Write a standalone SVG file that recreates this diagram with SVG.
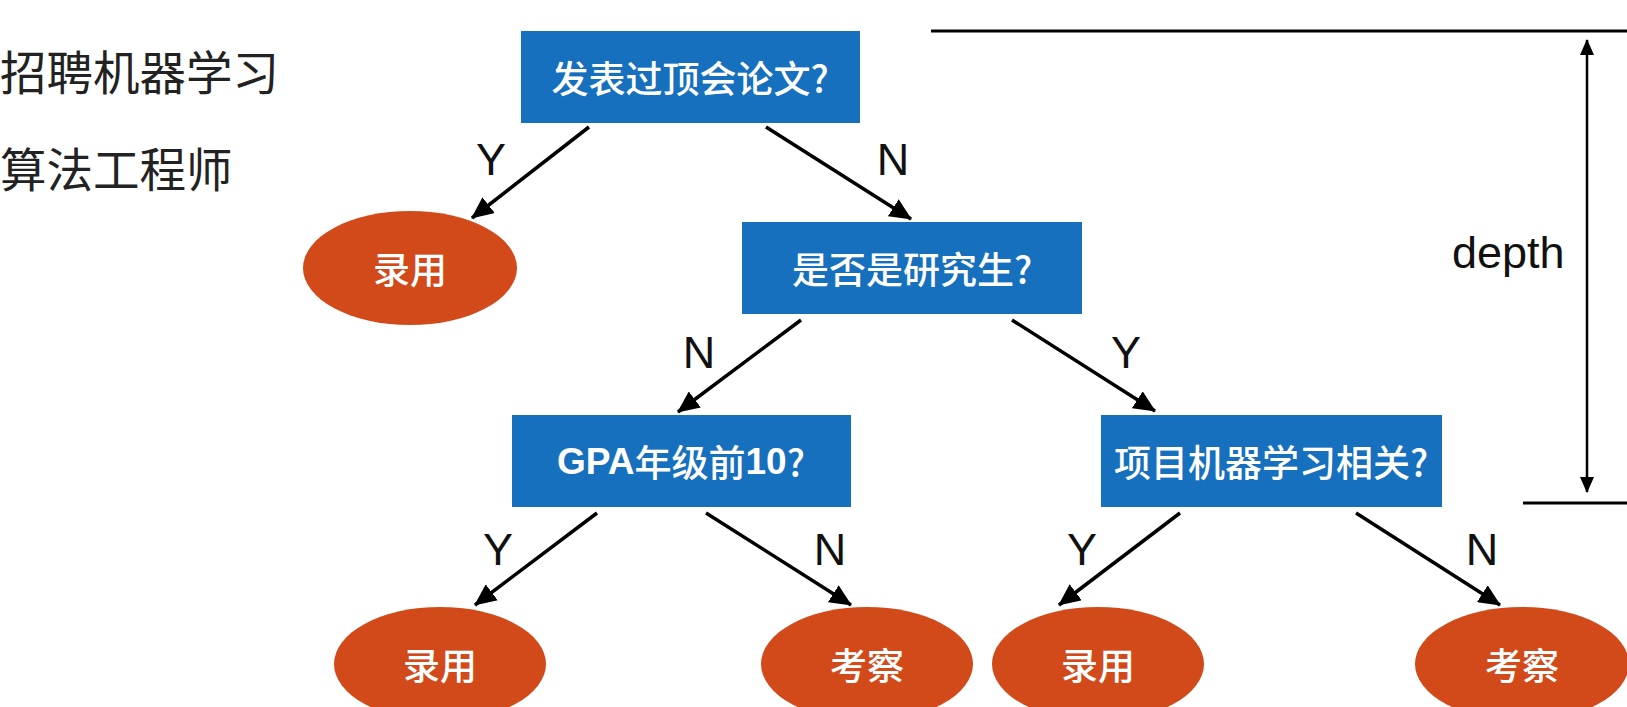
<svg xmlns="http://www.w3.org/2000/svg" width="1627" height="707" viewBox="0 0 1627 707">
<style>
.box{fill:#1670bd;}
.leaf{fill:#d34a1a;}
.bt{font-family:"Noto Sans CJK SC",sans-serif;font-size:37px;font-weight:500;fill:#fff;text-anchor:middle;dominant-baseline:central;}
.lt{font-family:"Noto Sans CJK SC",sans-serif;font-size:37px;font-weight:500;fill:#fff;text-anchor:middle;dominant-baseline:central;}
.lab{font-family:"Liberation Sans",Arial,sans-serif;font-size:45px;fill:#111;text-anchor:middle;}
.edge{stroke:#000;stroke-width:3.5;fill:none;marker-end:url(#ah);}
.rule{stroke:#000;stroke-width:3;fill:none;}
.title{font-family:"Noto Sans CJK SC",sans-serif;font-size:46.5px;fill:#222;dominant-baseline:central;}
</style>
<defs>
<marker id="ah" viewBox="0 0 22 20" refX="21" refY="10" markerWidth="22" markerHeight="20" markerUnits="userSpaceOnUse" orient="auto">
<path d="M0,0 L22,10 L0,20 z" fill="#000"/>
</marker>
<marker id="dh" viewBox="0 0 16 14" refX="15" refY="7" markerWidth="16" markerHeight="14" markerUnits="userSpaceOnUse" orient="auto-start-reverse">
<path d="M0,0 L16,7 L0,14 z" fill="#000"/>
</marker>
</defs>
<rect width="1627" height="707" fill="#fff"/>

<g id="title">
<text class="title" x="0" y="69">招聘机器学习</text>
<text class="title" x="0" y="166">算法工程师</text>
</g>

<g id="connectors">
<line class="edge" x1="589" y1="127" x2="472" y2="218"/>
<line class="edge" x1="766" y1="127" x2="911" y2="219"/>
<line class="edge" x1="801" y1="320" x2="678" y2="412"/>
<line class="edge" x1="1012" y1="320" x2="1155" y2="411"/>
<line class="edge" x1="597" y1="513" x2="475" y2="605"/>
<line class="edge" x1="706" y1="513" x2="851" y2="605"/>
<line class="edge" x1="1180" y1="513" x2="1059" y2="605"/>
<line class="edge" x1="1356" y1="513" x2="1500" y2="605"/>
<text class="lab" x="491" y="175">Y</text>
<text class="lab" x="893" y="175">N</text>
<text class="lab" x="699" y="368">N</text>
<text class="lab" x="1126" y="368">Y</text>
<text class="lab" x="498" y="565">Y</text>
<text class="lab" x="830" y="565">N</text>
<text class="lab" x="1082" y="565">Y</text>
<text class="lab" x="1482" y="565">N</text>
</g>

<g id="depth">
<line class="rule" x1="931" y1="31" x2="1627" y2="31"/>
<line class="rule" x1="1523" y1="503" x2="1627" y2="503"/>
<line x1="1587" y1="40" x2="1587" y2="492" stroke="#000" stroke-width="2.5" marker-start="url(#dh)" marker-end="url(#dh)"/>
<text x="1452" y="268" font-family="Liberation Sans,Arial,sans-serif" font-size="45" fill="#111">depth</text>
</g>

<g id="n1">
<rect class="box" x="521" y="31" width="339" height="92"/>
<text class="bt" x="690" y="77">发表过顶会论文?</text>
</g>
<g id="n2">
<ellipse class="leaf" cx="410" cy="268" rx="107" ry="57"/>
<text class="lt" x="410" y="268">录用</text>
</g>
<g id="n3">
<rect class="box" x="742" y="222" width="340" height="92"/>
<text class="bt" x="912" y="268">是否是研究生?</text>
</g>
<g id="n4">
<rect class="box" x="512" y="415" width="339" height="92"/>
<text class="bt" x="681" y="461"><tspan font-family="Liberation Sans,Arial,sans-serif" font-weight="bold">GPA</tspan>年级前<tspan font-family="Liberation Sans,Arial,sans-serif" font-weight="bold">10</tspan>?</text>
</g>
<g id="n5">
<rect class="box" x="1101" y="415" width="341" height="92"/>
<text class="bt" x="1271" y="461">项目机器学习相关?</text>
</g>
<g id="n6">
<ellipse class="leaf" cx="440" cy="664" rx="106" ry="57"/>
<text class="lt" x="440" y="664">录用</text>
</g>
<g id="n7">
<ellipse class="leaf" cx="867" cy="664" rx="106" ry="57"/>
<text class="lt" x="867" y="664">考察</text>
</g>
<g id="n8">
<ellipse class="leaf" cx="1098" cy="664" rx="106" ry="57"/>
<text class="lt" x="1098" y="664">录用</text>
</g>
<g id="n9">
<ellipse class="leaf" cx="1522" cy="664" rx="107" ry="57"/>
<text class="lt" x="1522" y="664">考察</text>
</g>
</svg>
